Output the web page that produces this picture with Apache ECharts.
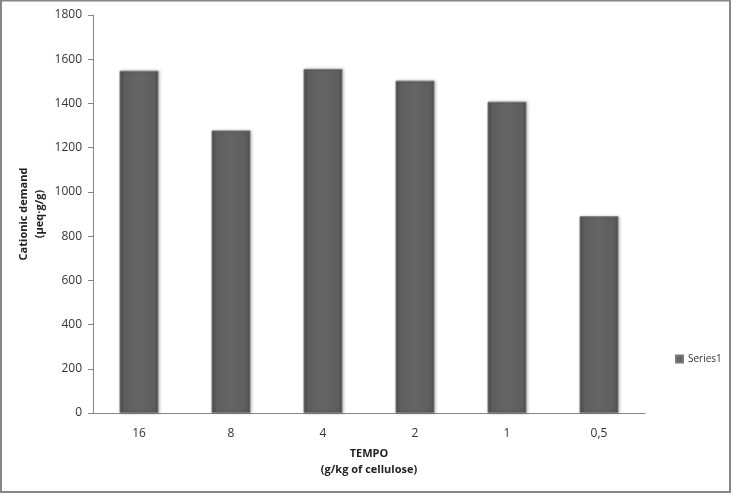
<!DOCTYPE html>
<html>
<head>
<meta charset="utf-8">
<script src="https://cdn.jsdelivr.net/npm/echarts@6/dist/echarts.min.js"></script>
<style>
  html, body { margin: 0; padding: 0; background: #fff; }
  #chart { width: 734px; height: 498px; }
</style>
</head>
<body>
<div id="chart"></div>
<script>
// data
const categories = ['16', '8', '4', '2', '1', '0,5']
const series1 = [1548, 1278, 1556, 1503, 1408, 890]
const yTicks = { min: 0, max: 1800, interval: 200 }

const chart = echarts.init(document.getElementById('chart'))

const barColor = {
  type: 'linear', x: 0, y: 0, x2: 1, y2: 0,
  colorStops: [
    { offset: 0, color: '#4f4f4f' },
    { offset: 0.12, color: '#5e5e5e' },
    { offset: 0.5, color: '#656565' },
    { offset: 0.88, color: '#5e5e5e' },
    { offset: 1, color: '#4f4f4f' }
  ]
}

const fontFam = 'Open Sans'

const option = {
  backgroundColor: '#fff',
  animation: false,
  textStyle: { fontFamily: fontFam },
  grid: { left: 93, right: 89, top: 15, bottom: 85 },
  legend: {
    data: ['Series1'],
    orient: 'vertical',
    left: 670,
    top: 349,
    itemWidth: 7,
    itemHeight: 7,
    itemGap: 4,
    icon: 'rect',
    textStyle: { fontSize: 10, color: '#333', fontFamily: fontFam }
  },
  graphic: [{
    type: 'rect',
    shape: { x: 1, y: 0.5, width: 729, height: 491.5 },
    style: { fill: 'none', stroke: '#868686', lineWidth: 2 },
    silent: true
  }],
  xAxis: {
    type: 'category',
    data: categories,
    axisLine: { show: true, lineStyle: { color: '#868686', width: 1 } },
    axisTick: { show: false },
    axisLabel: { color: '#333', fontSize: 12, margin: 15, fontFamily: fontFam },
    name: '{b|TEMPO}\n{n|(g/kg of cellulose)}',
    nameLocation: 'middle',
    nameGap: 33,
    nameMoveOverlap: false,
    nameTextStyle: {
      rich: {
        b: { fontSize: 11, fontWeight: 'bold', color: '#222', fontFamily: fontFam, lineHeight: 16 },
        n: { fontSize: 11, fontWeight: 'bold', color: '#222', fontFamily: fontFam, lineHeight: 16 }
      }
    }
  },
  yAxis: {
    type: 'value',
    min: yTicks.min,
    max: yTicks.max,
    interval: yTicks.interval,
    axisLine: { show: true, lineStyle: { color: '#868686', width: 1 } },
    axisTick: { show: true, length: 5, lineStyle: { color: '#868686' } },
    splitLine: { show: false },
    axisLabel: { color: '#333', fontSize: 12, margin: 11, fontFamily: fontFam, formatter: v => String(v) },
    name: 'Cationic demand\n(µeq·g/g)',
    nameLocation: 'middle',
    nameGap: 45,
    nameRotate: 90,
    nameMoveOverlap: false,
    nameTextStyle: { fontSize: 11, fontWeight: 'bold', color: '#222', lineHeight: 16, fontFamily: fontFam }
  },
  series: [{
    name: 'Series1',
    type: 'bar',
    data: series1,
    barWidth: 39,
    itemStyle: {
      color: barColor,
      borderColor: '#7a7a7a',
      borderWidth: 1,
      shadowColor: 'rgba(0,0,0,0.25)',
      shadowBlur: 3,
      shadowOffsetX: 1,
      shadowOffsetY: 0
    }
  }]
}

chart.setOption(option)
</script>
</body>
</html>
